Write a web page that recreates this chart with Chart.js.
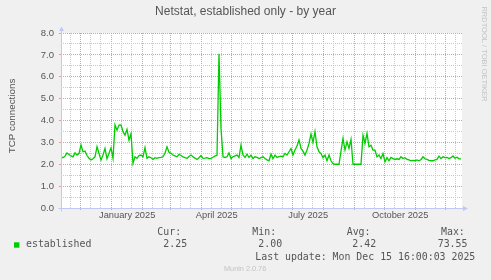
<!DOCTYPE html>
<html><head><meta charset="utf-8">
<script src="https://cdn.jsdelivr.net/npm/chart.js@4/dist/chart.umd.min.js"></script>
<style>html,body{margin:0;padding:0;background:#f0f0f0;overflow:hidden}</style>
</head><body>
<canvas id="c" width="491" height="280"></canvas>
<script>
const chartTitle = 'Netstat, established only - by year';
const yAxisTitle = 'TCP connections';
const seriesName = 'established';
// one sample every 2 days, from the left edge of the plot (11 Nov 2024) to 15 Dec 2025
const sampleStepDays = 2;
const established = [
  2.34,2.30,2.37,2.52,2.45,2.38,2.34,2.52,2.42,2.50,
  2.88,2.57,2.60,2.40,2.27,2.20,2.25,2.34,2.80,2.49,
  2.19,2.42,2.72,2.25,2.50,2.75,2.27,3.80,3.56,3.79,
  3.80,3.49,3.33,3.60,3.10,3.40,2.04,2.34,2.27,2.40,
  2.42,2.34,2.76,2.27,2.34,2.30,2.22,2.30,2.27,2.30,
  2.31,2.34,2.50,2.80,2.55,2.50,2.42,2.38,2.34,2.45,
  2.40,2.34,2.30,2.27,2.35,2.42,2.34,2.28,2.22,2.30,
  2.40,2.27,2.28,2.30,2.26,2.27,2.32,2.38,2.40,7.05,
  3.64,2.34,2.31,2.34,2.52,2.26,2.34,2.38,2.42,2.31,
  2.87,2.42,2.31,2.46,2.31,2.42,2.26,2.34,2.31,2.26,
  2.30,2.34,2.26,2.20,2.16,2.46,2.26,2.42,2.31,2.35,
  2.37,2.34,2.49,2.42,2.57,2.72,2.42,2.65,2.83,3.11,
  2.72,2.60,2.42,2.65,2.95,3.38,3.00,3.49,2.80,2.57,
  2.49,2.30,2.42,2.16,2.42,2.16,2.03,2.00,2.00,2.00,
  2.60,3.18,2.65,3.03,2.72,3.14,2.00,2.00,2.00,2.00,
  2.00,3.33,2.95,3.41,2.80,2.87,2.65,2.65,2.34,2.42,
  2.26,2.49,2.11,2.30,2.16,2.31,2.26,2.22,2.25,2.22,
  2.34,2.26,2.30,2.22,2.20,2.16,2.18,2.16,2.20,2.16,
  2.22,2.34,2.25,2.22,2.18,2.16,2.16,2.20,2.22,2.37,
  2.26,2.34,2.30,2.31,2.26,2.30,2.38,2.28,2.32,2.25,
  2.25
];
const yTickValues = [0,0.5,1,1.5,2,2.5,3,3.5,4,4.5,5,5.5,6,6.5,7,7.5,8];
const yTickLabels = ['0.0','','1.0','','2.0','','3.0','','4.0','','5.0','','6.0','','7.0','','8.0'];
const xLabelMonths = [[2025,0],[2025,3],[2025,6],[2025,9]];
const xTickLabels = ['January 2025','April 2025','July 2025','October 2025'];
const legendHeaders = ['Cur:','Min:','Avg:','Max:'];
const legendValues = ['2.25','2.00','2.42','73.55'];
const lastUpdate = 'Last update: Mon Dec 15 16:00:03 2025';
const footer = 'Munin 2.0.76';
const sideText = 'RRDTOOL / TOBI OETIKER';

// time axis expressed in days since the left edge of the plot
const DAY = 86400000;
const plotStart = Date.UTC(2024,10,11,7,12);
const plotDays = 401;
const dayOf = (y,m,d) => (Date.UTC(y,m,d) - plotStart) / DAY;

const xTicks = [];
for (let y = 2024, m = 10; y < 2026; ) {
  const s = dayOf(y,m,1);
  const nm = m === 11 ? [y+1,0] : [y,m+1];
  const e = dayOf(nm[0],nm[1],1);
  if (s >= 0 && s <= plotDays) xTicks.push({value:s, kind:'major', label:''});
  [11,21].forEach(d => { const v = dayOf(y,m,d); if (v > 0 && v < plotDays) xTicks.push({value:v, kind:'minor', label:''}); });
  xLabelMonths.forEach((lm,i) => { if (lm[0]===y && lm[1]===m) xTicks.push({value:(s+e)/2, kind:'label', label:xTickLabels[i]}); });
  y = nm[0]; m = nm[1];
  if (y === 2025 && m === 12) break;
}
xTicks.sort((a,b)=>a.value-b.value);

const points = established.map((v,i)=>({x:i*sampleStepDays, y:v}));

const majorColor = '#f09696';
const minorColor = '#c8c8c8';
const axisColor = '#c2c8f6';
const textColor = '#555555';
const sans = '"Liberation Sans", Arial, sans-serif';
const mono = '"DejaVu Sans Mono", monospace';

const decor = {
  id:'decor',
  beforeDraw(chart){
    const {ctx, chartArea:a} = chart;
    ctx.save();
    ctx.fillStyle = '#f0f0f0';
    ctx.fillRect(0,0,chart.width,chart.height);
    ctx.fillStyle = '#ffffff';
    ctx.fillRect(a.left, a.top, a.right-a.left, a.bottom-a.top);
    ctx.restore();
  },
  afterDraw(chart){
    const {ctx, chartArea:a} = chart;
    ctx.save();
    ctx.strokeStyle = axisColor; ctx.fillStyle = axisColor; ctx.lineWidth = 1;
    const lx = Math.round(a.left)+0.5, by = Math.round(a.bottom)+0.5;
    ctx.beginPath(); ctx.moveTo(lx, by+3); ctx.lineTo(lx, a.top-3); ctx.stroke();
    ctx.beginPath(); ctx.moveTo(lx-3, by); ctx.lineTo(a.right+2, by); ctx.stroke();
    ctx.beginPath(); ctx.moveTo(lx-2.5, a.top-2); ctx.lineTo(lx+2.5, a.top-2); ctx.lineTo(lx, a.top-6.5); ctx.closePath(); ctx.fill();
    ctx.beginPath(); ctx.moveTo(a.right+1, by-2.5); ctx.lineTo(a.right+1, by+2.5); ctx.lineTo(a.right+6, by); ctx.closePath(); ctx.fill();
    ctx.fillStyle = textColor;
    ctx.font = '12px ' + sans;
    ctx.textAlign = 'center'; ctx.textBaseline = 'middle';
    ctx.fillText(chartTitle, 245.5, 12);
    ctx.save();
    ctx.translate(12, 116); ctx.rotate(-Math.PI/2);
    ctx.font = '9.8px ' + sans;
    ctx.fillText(yAxisTitle, 0, 0);
    ctx.restore();
    ctx.save();
    ctx.translate(484, 54); ctx.rotate(Math.PI/2);
    ctx.fillStyle = '#c4c4c4';
    ctx.font = '7.5px ' + sans;
    ctx.fillText(sideText, 0, 0);
    ctx.restore();
    ctx.fillStyle = '#00cc00';
    ctx.fillRect(14, 242.3, 5.4, 5.4);
    ctx.fillStyle = textColor;
    ctx.font = '9.9px ' + mono;
    ctx.textAlign = 'left';
    ctx.fillText(seriesName, 26, 244.5);
    const hx = [157.3, 252.3, 346.7, 441];
    const vx = [163.3, 258.3, 352.3, 437.7];
    legendHeaders.forEach((t,i)=>ctx.fillText(t, hx[i], 232.5));
    legendValues.forEach((t,i)=>ctx.fillText(t, vx[i], 244.5));
    ctx.fillText(lastUpdate, 255.3, 257);
    ctx.fillStyle = '#c4c4c4';
    ctx.font = '7.3px ' + sans;
    ctx.fillText(footer, 224, 268.5);
    ctx.restore();
  }
};

new Chart(document.getElementById('c'), {
  type:'line',
  data:{datasets:[{label:seriesName, data:points, borderColor:'#00cc00', borderWidth:1.3, pointRadius:0, tension:0, fill:false}]},
  options:{
    responsive:false, animation:false, devicePixelRatio:1,
    layout:{padding:{top:33, right:29, bottom:52, left:0}},
    plugins:{legend:{display:false}, tooltip:{enabled:false}, title:{display:false}},
    scales:{
      x:{
        type:'linear', min:0, max:plotDays,
        afterBuildTicks(s){ s.ticks = xTicks.map(t=>({value:t.value})); },
        afterFit(s){ s.height = 20; },
        ticks:{autoSkip:false, maxRotation:0, minRotation:0, padding:0, color:textColor,
          font:{family:sans, size:9.3}, callback:(v,i)=>xTicks[i] ? xTicks[i].label : ''},
        grid:{lineWidth:1, tickLength:2,
          color:c=>{const t=xTicks[c.index]; return !t||t.kind==='label' ? 'rgba(0,0,0,0)' : (t.kind==='major'?majorColor:minorColor);},
          tickColor:c=>{const t=xTicks[c.index]; return t&&t.kind==='major' ? majorColor : 'rgba(0,0,0,0)';}},
        border:{display:false, dash:[1,1]}
      },
      y:{
        min:0, max:8,
        afterBuildTicks(s){ s.ticks = yTickValues.map(v=>({value:v})); },
        afterFit(s){ s.width = 61; },
        ticks:{autoSkip:false, padding:5, color:textColor, font:{family:sans, size:9.5},
          callback:(v,i)=>yTickLabels[i]},
        grid:{lineWidth:1, tickLength:2,
          color:c=>Number.isInteger(yTickValues[c.index]) ? majorColor : minorColor,
          tickColor:c=>Number.isInteger(yTickValues[c.index]) ? majorColor : 'rgba(0,0,0,0)'},
        border:{display:false, dash:[1,1]}
      }
    }
  },
  plugins:[decor]
});
</script>
</body></html>
